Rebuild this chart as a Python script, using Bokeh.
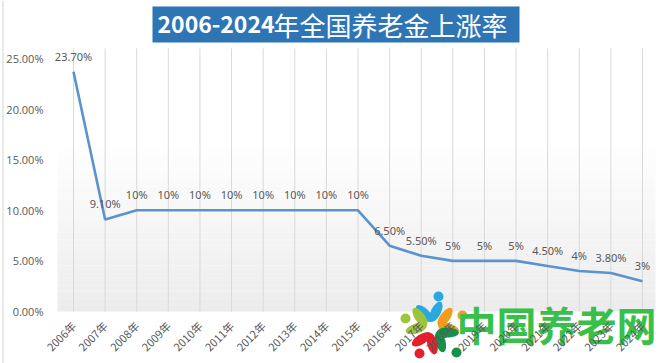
from bokeh.plotting import figure
from bokeh.models import Label, FixedTicker, ColumnDataSource, BoxAnnotation
from bokeh.embed import file_html
from bokeh.resources import INLINE
from bokeh.core.properties import value
import numpy as np

years = [2006, 2007, 2008, 2009, 2010, 2011, 2012, 2013, 2014, 2015,
         2016, 2017, 2018, 2019, 2020, 2021, 2022, 2023, 2024]
rates = [23.7, 9.1, 10, 10, 10, 10, 10, 10, 10, 10,
         6.5, 5.5, 5, 5, 5, 4.5, 4, 3.8, 3]
rate_labels = ["23.70%", "9.10%", "10%", "10%", "10%", "10%", "10%", "10%", "10%", "10%",
               "6.50%", "5.50%", "5%", "5%", "5%", "4.50%", "4%", "3.80%", "3%"]
x_tick_labels = ["2006年", "2007年", "2008年", "2009年", "2010年", "2011年", "2012年",
                 "2013年", "2014年", "2015年", "2016年", "2017年", "2018年", "2019年",
                 "2020年", "2021年", "2022年", "2023年", "2024年"]
y_ticks = [0, 5, 10, 15, 20, 25]
y_tick_labels = ["0.00%", "5.00%", "10.00%", "15.00%", "20.00%", "25.00%"]
title_bold = "2006-2024"
title_rest = "年全国养老金上涨率"
logo_text = "中国养老网"

W, H = 660, 363
# canvas-wide frame; scales: pixels per unit
PXX = 569 / 18.0
PXY = 253 / 25.0
X0 = 2006 - 73 / PXX
X1 = X0 + W / PXX
Y1 = 25 + 58 / PXY
Y0 = Y1 - H / PXY

def px_x(c):
    return X0 + c / PXX

def px_y(c):
    return Y1 - c / PXY

PLOT_L, PLOT_R, PLOT_T = px_x(57), px_x(655), 26.0

p = figure(width=W, height=H, output_backend="svg", toolbar_location=None,
           x_range=(X0, X1), y_range=(Y0, Y1),
           min_border=0, min_border_left=0, min_border_right=0,
           min_border_top=0, min_border_bottom=0)
p.outline_line_color = None
p.background_fill_color = "white"
p.border_fill_color = "white"
p.xgrid.grid_line_color = None
p.ygrid.grid_line_color = None

# plot-area background gradient (decorative)
n = 40
edges = np.linspace(0, PLOT_T, n + 1)
cols = []
for i in range(n):
    mid = (edges[i] + edges[i + 1]) / 2
    t = min(max((17.0 - mid) / 17.0, 0.0), 1.0)
    g = int(round(255 - 19 * t))
    cols.append("#%02x%02x%02x" % (g, g, g))
p.quad(left=PLOT_L, right=PLOT_R, bottom=edges[:-1], top=edges[1:],
       fill_color=cols, line_color=None)

# vertical gridlines at each category
p.segment(x0=years, x1=years, y0=[0] * len(years), y1=[PLOT_T] * len(years),
          line_color="#d9d9d9", line_width=1)

# watermark logo (decorative pinwheel of five figures), beneath axis labels
cx, cy = 432, 327
petals = [(99, (438, 296), "#29a9e0"), (18, (462, 315), "#f39c1b"),
          (-39, (456, 352), "#16914a"), (-112, (419, 353), "#e2212d"),
          (162, (405, 318), "#9dc53c")]
for deg, (dx, dy), col in petals:
    th = np.radians(deg)
    ix, iy = cx + 7 * np.cos(th), cy - 7 * np.sin(th)
    for off in (36, -36):
        a = th + np.radians(off)
        ex, ey = ix + 10 * np.cos(a), iy - 10 * np.sin(a)
        p.ellipse(x=[px_x(ex)], y=[px_y(ey)], width=22, height=10, angle=a,
                  width_units="screen", height_units="screen",
                  fill_color=col, line_color=None)
    p.scatter(x=[px_x(dx)], y=[px_y(dy)], size=10, fill_color=col, line_color=None)
p.text(x=[px_x(456)], y=[px_y(323)], text=[logo_text], text_align="left",
       text_baseline="middle", text_color="#38c04a", text_font_size="40px",
       text_font=value("Noto Sans CJK SC"), text_font_style="bold")

src = ColumnDataSource(dict(x=years, y=rates, lab=rate_labels))
p.line("x", "y", source=src, line_color="#5b93cc", line_width=2.6)
p.text("x", "y", text="lab", source=src, text_align="center", text_baseline="bottom",
       y_offset=-8, text_font_size="11px", text_color="#595959",
       text_font=value("Noto Sans"))

# axes fixed inside the canvas-wide frame
p.xaxis.fixed_location = 0
p.yaxis.fixed_location = PLOT_L
p.xaxis.ticker = FixedTicker(ticks=years)
p.xaxis.major_label_overrides = {y: l for y, l in zip(years, x_tick_labels)}
p.xaxis.major_label_orientation = np.pi / 4
p.xaxis.major_label_text_font = "Noto Sans CJK SC"
p.xaxis.major_label_text_font_size = "11px"
p.xaxis.major_label_text_color = "#595959"
p.yaxis.ticker = FixedTicker(ticks=y_ticks)
p.yaxis.major_label_overrides = {y: l for y, l in zip(y_ticks, y_tick_labels)}
p.yaxis.major_label_text_font = "Open Sans"
p.yaxis.major_label_text_font_size = "11px"
p.yaxis.major_label_text_color = "#595959"
for ax in (p.xaxis, p.yaxis):
    ax.axis_line_color = None
    ax.major_tick_line_color = None
    ax.minor_tick_line_color = None
p.xaxis.major_label_standoff = 6
p.yaxis.major_label_standoff = 8

# page frame line at left
p.add_layout(BoxAnnotation(left=2, right=3, bottom=0, top=H,
                           left_units="screen", right_units="screen",
                           top_units="screen", bottom_units="screen",
                           fill_color="#d4d4d4", fill_alpha=1, line_color=None))

# title box
p.add_layout(BoxAnnotation(left=152, right=519, top=H - 6, bottom=H - 42,
                           left_units="screen", right_units="screen",
                           top_units="screen", bottom_units="screen",
                           fill_color="#2e75b6", fill_alpha=1, line_color=None))
p.add_layout(Label(x=157, y=H - 24, x_units="screen", y_units="screen", text=title_bold,
                   text_align="left", text_baseline="middle", text_color="white",
                   text_font="Noto Sans CJK SC", text_font_style="bold",
                   text_font_size="23px"))
p.add_layout(Label(x=273, y=H - 24, x_units="screen", y_units="screen", text=title_rest,
                   text_align="left", text_baseline="middle", text_color="white",
                   text_font="Noto Sans CJK SC", text_font_size="26px"))

open("out.html", "w").write(file_html(p, INLINE))
